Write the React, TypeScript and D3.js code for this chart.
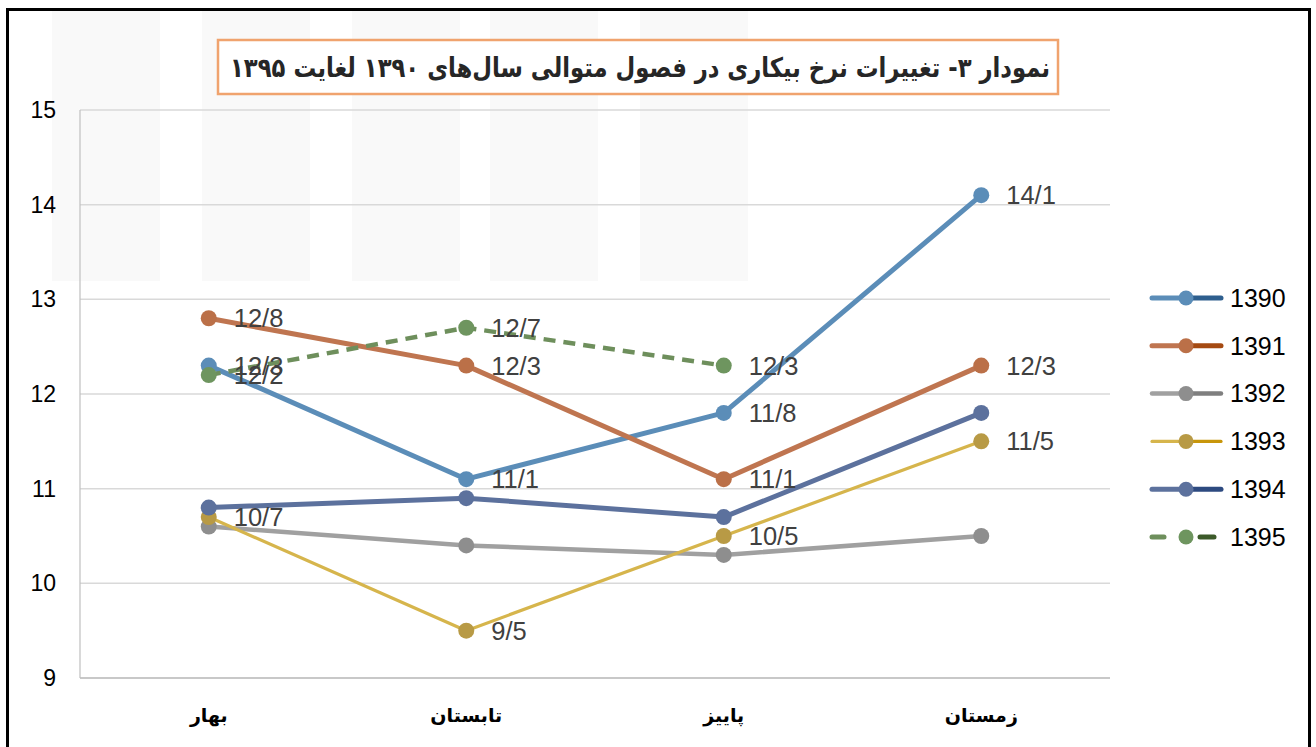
import * as d3 from "d3";

const seasons = ["بهار", "تابستان", "پاییز", "زمستان"];
const years = ["1390", "1391", "1392", "1393", "1394", "1395"];

const v1390 = [12.3, 11.1, 11.8, 14.1];
const v1391 = [12.8, 12.3, 11.1, 12.3];
const v1392 = [10.6, 10.4, 10.3, 10.5];
const v1393 = [10.7, 9.5, 10.5, 11.5];
const v1394 = [10.8, 10.9, 10.7, 11.8];
const v1395 = [12.2, 12.7, 12.3];

const yTicks = [9, 10, 11, 12, 13, 14, 15];

const seriesValues = [v1390, v1391, v1392, v1393, v1394, v1395];
const lineColors = ["#5b8db8", "#bf7550", "#a0a0a0", "#d6b54c", "#5c719d", "#6e8f5c"];
const markerColors = ["#5b8db8", "#bb7048", "#8e8e8e", "#b89a45", "#5c719d", "#6e955f"];
const legendDark = ["#2e5f8e", "#a54a12", "#7f7f7f", "#c8960a", "#2d4a80", "#3c5a2a"];
const lineWidths = [5, 5, 4.5, 3.2, 5, 4.5];
const showLabels = [true, true, false, true, false, true];

const title = "نمودار ۳- تغییرات نرخ بیکاری در فصول متوالی سال‌های ۱۳۹۰ لغایت ۱۳۹۵";

export default function App() {
  const width = 1316;
  const height = 747;
  const left = 80, right = 1110, top = 110, bottom = 678;

  const x = d3.scaleBand<string>().domain(seasons).range([left, right]);
  const y = d3.scaleLinear().domain([9, 15]).range([bottom, top]);
  const cx = (i: number) => (x(seasons[i]) ?? 0) + x.bandwidth() / 2;

  const line = d3.line<number>()
    .x((_, i) => cx(i))
    .y(d => y(d));

  const legendY = d3.scalePoint<string>().domain(years).range([298, 537]);

  return (
    <svg width={width} height={height} style={{position: "absolute", left: 0, top: 0, fontFamily: "Arial, 'Liberation Sans', sans-serif"}}>
      <rect x={0} y={0} width={width} height={height} fill="#fff" />
      {/* faint watermark bands */}
      {[52, 202, 352, 490, 640].map((bx, i) => (
        <rect key={i} x={bx} y={9} width={108} height={272} fill="#f9f9f9" />
      ))}
      <rect x={7.5} y={9.5} width={1302} height={760} fill="none" stroke="#000" strokeWidth={3} />

      {/* grid */}
      {yTicks.map(t => (
        <g key={t}>
          <line x1={left} x2={right} y1={y(t)} y2={y(t)} stroke="#d9d9d9" strokeWidth={1.5} />
          <text x={56} y={y(t)} dy="0.35em" textAnchor="end" fontSize={23} fill="#000">{t}</text>
        </g>
      ))}
      <line x1={left} x2={left} y1={top} y2={bottom} stroke="#bfbfbf" strokeWidth={1.2} />
      <line x1={left} x2={right} y1={bottom} y2={bottom} stroke="#bfbfbf" strokeWidth={1.5} />

      {/* category labels */}
      {seasons.map((s, i) => (
        <text key={s} x={cx(i)} y={722} textAnchor="middle" direction="rtl" fontFamily="'DejaVu Sans', sans-serif" fontWeight="bold" fontSize={19} fill="#000">{s}</text>
      ))}

      {/* series */}
      {seriesValues.map((vals, si) => (
        <g key={years[si]}>
          <path d={line(vals) ?? ""} fill="none" stroke={lineColors[si]} strokeWidth={lineWidths[si]}
            strokeDasharray={si === 5 ? "12 8" : undefined} strokeLinejoin="round" />
          {vals.map((v, i) => (
            <circle key={i} cx={cx(i)} cy={y(v)} r={8} fill={markerColors[si]} />
          ))}
        </g>
      ))}
      {seriesValues.map((vals, si) => showLabels[si] ? (
        <g key={"l" + si}>
          {vals.map((v, i) => (
            <text key={i} x={cx(i) + 25} y={y(v)} dy="0.35em" fontSize={25.5} fill="#404040">
              {String(v).replace(".", "/")}
            </text>
          ))}
        </g>
      ) : null)}

      {/* legend */}
      {years.map((yr, i) => {
        const ly = legendY(yr) ?? 0;
        return (
          <g key={yr}>
            {i === 5 ? (
              <>
                <line x1={1152} x2={1164} y1={ly} y2={ly} stroke={lineColors[i]} strokeWidth={5} strokeLinecap="round" />
                <line x1={1200} x2={1214} y1={ly} y2={ly} stroke={legendDark[i]} strokeWidth={5} strokeLinecap="round" />
              </>
            ) : (
              <>
                <line x1={1152} x2={1186} y1={ly} y2={ly} stroke={lineColors[i]} strokeWidth={lineWidths[i]} strokeLinecap="round" />
                <line x1={1186} x2={1221} y1={ly} y2={ly} stroke={legendDark[i]} strokeWidth={lineWidths[i]} strokeLinecap="round" />
              </>
            )}
            <circle cx={1186} cy={ly} r={7.5} fill={markerColors[i]} />
            <text x={1230} y={ly} dy="0.35em" fontSize={25} fill="#000">{yr}</text>
          </g>
        );
      })}

      {/* title */}
      <rect x={218} y={40} width={840} height={54} fill="#fff" stroke="#f0a36e" strokeWidth={2.5} />
      <text x={1050} y={67} dy="0.36em" textAnchor="start" direction="rtl" fontFamily="'DejaVu Sans', sans-serif"
        fontWeight="bold" fontSize={27} fill="#262626" textLength={820} lengthAdjust="spacingAndGlyphs">{title}</text>
    </svg>
  );
}
